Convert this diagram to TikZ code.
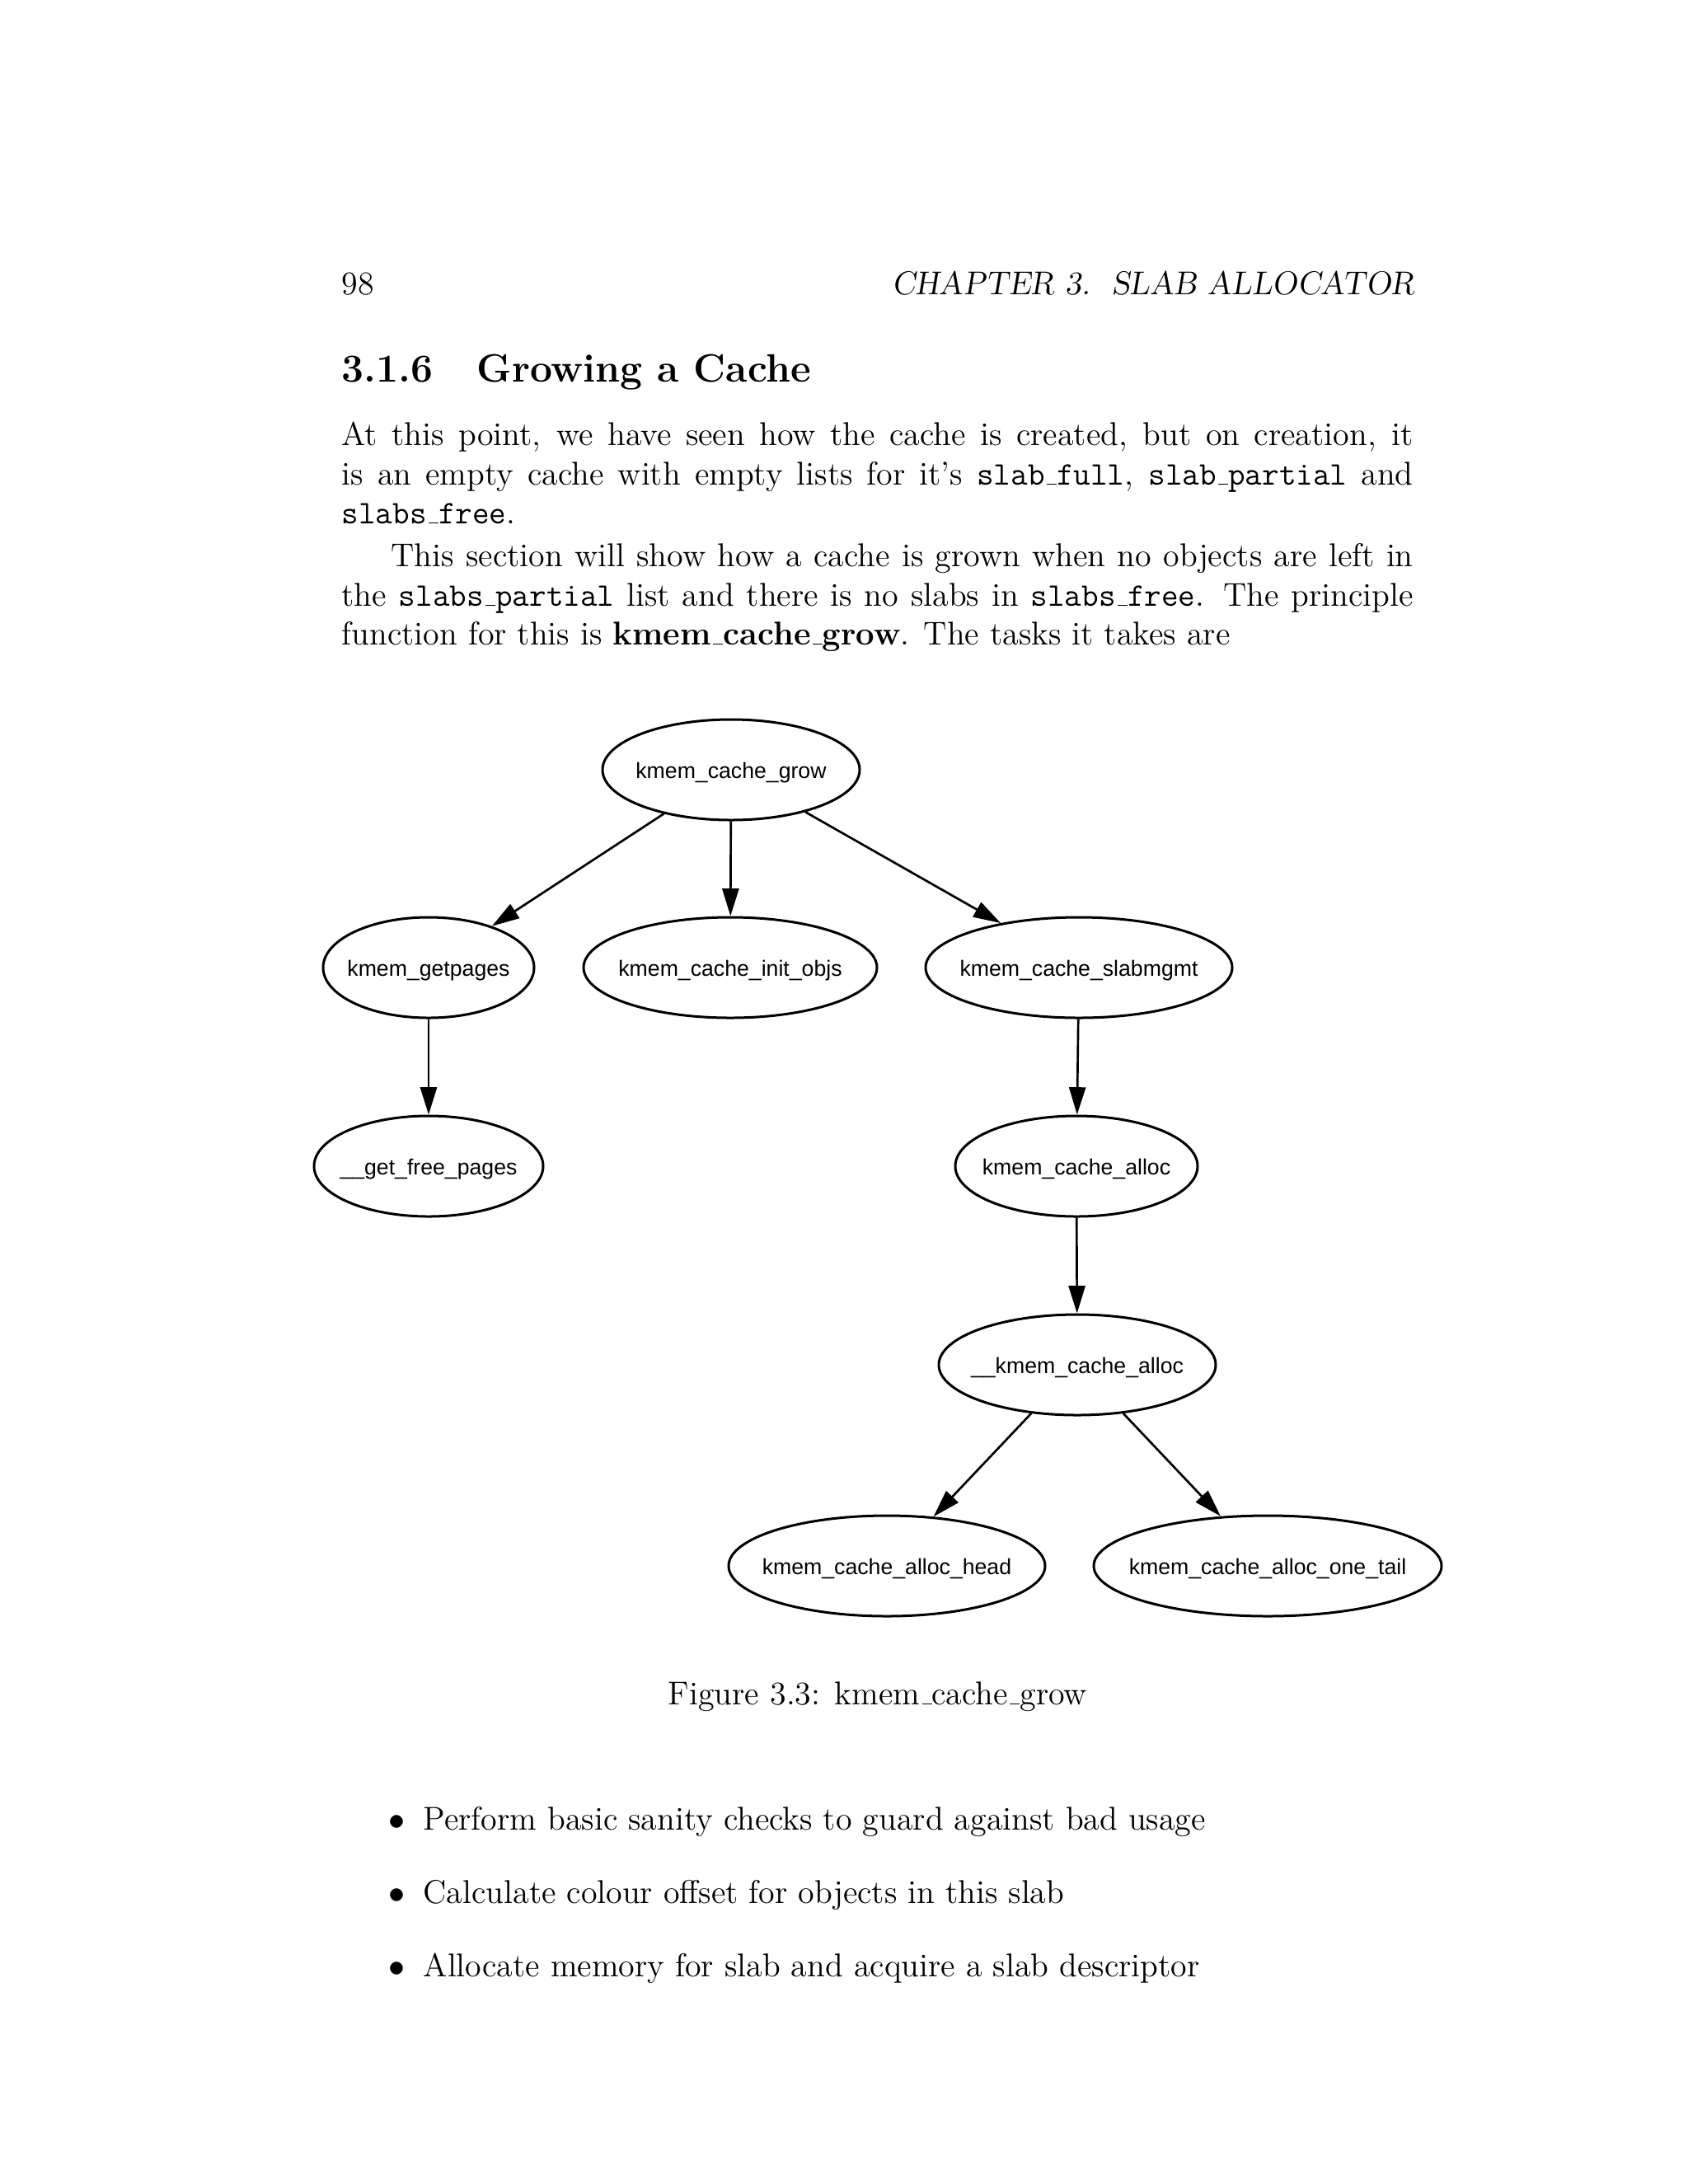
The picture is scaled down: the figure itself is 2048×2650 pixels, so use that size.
\documentclass[tikz,border=0pt]{standalone}
\usepackage{fontspec}
\newfontfamily\helv{Liberation Sans}
\usetikzlibrary{shapes.geometric,arrows.meta}
\newcommand\ulr{\leavevmode\kern.06em\vbox{\hrule width.3em}}
\tikzset{
  pg/.style={inner sep=0pt, anchor=base west, font=\fontsize{12}{14.5}\selectfont},
  fn/.style={draw, ellipse, line width=0.9pt, inner sep=0pt, minimum height=36.6pt,
             text height=7.3pt, text depth=1pt,
             font=\helv\fontsize{8}{9.6}\selectfont},
  edge/.style={line width=0.8pt, -{Triangle[length=10pt,width=6pt]}}
}
\newcommand\lbl[1]{\makebox[0pt]{#1}}
\begin{document}
\begin{tikzpicture}[x=0.3pt,y=-0.3pt]
\useasboundingbox (0,0) rectangle (2048,2650);
% header
\node[pg] (pnum) at (414,357) {98};
\node[pg, anchor=base east] (hdr) at (1717,357) {\slshape CHAPTER 3.\ \ SLAB ALLOCATOR};
% section
\node[pg, font=\fontsize{14.4}{18}\selectfont\bfseries] (sec) at (414,463) {3.1.6\hspace{1.1em}Growing a Cache};
% paragraph
\node[pg] (l1) at (414,540) {\makebox[390pt][s]{At this point, we have seen how the cache is created, but on creation, it}};
\node[pg] (l2) at (414,588) {\makebox[390pt][s]{is an empty cache with empty lists for it's \texttt{slab\ulr full}, \texttt{slab\ulr partial} and}};
\node[pg] (l3) at (414,635) {\texttt{slabs\ulr free}.};
\node[pg] (l4) at (414,687) {\makebox[390pt][s]{\hspace{18pt}This section will show how a cache is grown when no objects are left in}};
\node[pg] (l5) at (414,735) {\makebox[390pt][s]{the \texttt{slabs\ulr partial} list and there is no slabs in \texttt{slabs\ulr free}. The principle}};
\node[pg] (l6) at (414,782) {function for this is \textbf{kmem\ulr cache\ulr grow}. The tasks it takes are};
% graph
\node[fn, minimum width=93.6pt] (grow) at (887,934) {\lbl{kmem\_cache\_grow}};
\node[fn, minimum width=76.8pt] (getpages) at (520,1174) {\lbl{kmem\_getpages}};
\node[fn, minimum width=106.8pt] (initobjs) at (886,1174) {\lbl{kmem\_cache\_init\_objs}};
\node[fn, minimum width=111.6pt] (slabmgmt) at (1309,1174) {\lbl{kmem\_cache\_slabmgmt}};
\node[fn, minimum width=83.4pt] (getfree) at (520,1415) {\lbl{\_\_get\_free\_pages}};
\node[fn, minimum width=88.2pt] (alloc) at (1306,1415) {\lbl{kmem\_cache\_alloc}};
\node[fn, minimum width=100.8pt] (kalloc) at (1307,1656) {\lbl{\_\_kmem\_cache\_alloc}};
\node[fn, minimum width=115.2pt] (head) at (1076,1900) {\lbl{kmem\_cache\_alloc\_head}};
\node[fn, minimum width=126.6pt] (tail) at (1538,1900) {\lbl{kmem\_cache\_alloc\_one\_tail}};
\draw[edge] (grow) -- (getpages);
\draw[edge] (grow) -- (initobjs);
\draw[edge] (grow) -- (slabmgmt);
\draw[edge] (getpages) -- (getfree);
\draw[edge] (slabmgmt) -- (alloc);
\draw[edge] (alloc) -- (kalloc);
\draw[edge] (kalloc) -- (head);
\draw[edge] (kalloc) -- (tail);
% caption
\node[pg, anchor=base] (cap) at (1065,2068) {Figure 3.3: kmem\ulr cache\ulr grow};
% items
\node[pg, anchor=base east] (b1) at (492,2220) {$\bullet$};
\node[pg] (i1) at (513,2220) {Perform basic sanity checks to guard against bad usage};
\node[pg, anchor=base east] (b2) at (492,2309) {$\bullet$};
\node[pg] (i2) at (513,2309) {Calculate colour offset for objects in this slab};
\node[pg, anchor=base east] (b3) at (492,2398) {$\bullet$};
\node[pg] (i3) at (513,2398) {Allocate memory for slab and acquire a slab descriptor};
\end{tikzpicture}
\end{document}
